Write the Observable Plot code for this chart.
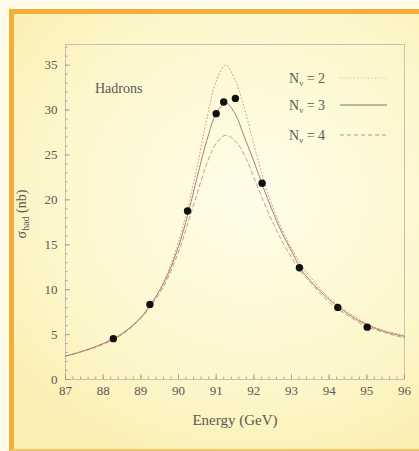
<!DOCTYPE html>
<html><head><meta charset="utf-8">
<script src="https://cdn.jsdelivr.net/npm/d3@7"></script>
<script src="https://cdn.jsdelivr.net/npm/@observablehq/plot@0.6"></script>
<style>
html,body{margin:0;padding:0;}
body{width:419px;height:451px;overflow:hidden;position:relative;background:#fffbe8;}
#panel{position:absolute;left:9px;top:9px;width:415px;height:442px;border-left:5px solid #efb03a;border-top:5px solid #efb03a;border-bottom:2px solid #f3c466;box-sizing:border-box;
background:radial-gradient(ellipse 75% 65% at 58% 42%, #fffdea 0%, #fdf7cc 65%, #faefb4 100%);}
#chart{position:absolute;left:0;top:0;}
</style></head><body><div id="panel"></div><div id="chart"></div>
<script>
// Measured data points
const energy = [88.27, 89.24, 90.24, 91.00, 91.20, 91.51, 92.22, 93.21, 94.23, 95.01];
const sigma  = [4.55, 8.36, 18.76, 29.6, 30.9, 31.3, 21.85, 12.45, 8.03, 5.83];

// Curve grid (energy) and the three predictions
const curveE = [87, 87.5, 88, 88.5, 89, 89.25, 89.5, 89.75, 90, 90.25, 90.5, 90.75, 91, 91.25, 91.5, 91.75, 92, 92.25, 92.5, 92.75, 93, 93.25, 93.5, 94, 94.5, 95, 95.5, 96];
const nv2 = [2.6, 3.2, 4.0, 5.1, 6.9, 8.3, 10.0, 12.3, 15.3, 19.2, 23.8, 29.0, 33.2, 35.0, 33.4, 30.2, 26.2, 22.4, 19.2, 16.7, 14.6, 12.8, 11.4, 9.1, 7.5, 6.2, 5.4, 4.9];
const nv3 = [2.6, 3.2, 4.0, 5.1, 6.9, 8.3, 9.9, 12.0, 14.8, 18.4, 22.6, 26.6, 29.6, 30.8, 29.6, 27.0, 24.3, 21.4, 18.7, 16.3, 14.3, 12.3, 11.0, 8.9, 7.3, 6.1, 5.3, 4.8];
const nv4 = [2.6, 3.2, 3.9, 5.0, 6.8, 8.1, 9.6, 11.6, 14.2, 17.4, 20.8, 24.0, 26.3, 27.2, 26.6, 25.0, 22.5, 19.9, 17.5, 15.4, 13.6, 12.0, 10.8, 8.6, 7.1, 5.9, 5.2, 4.6];

// Ticks and labels
const xTicks = [87, 88, 89, 90, 91, 92, 93, 94, 95, 96];
const yTicks = [0, 5, 10, 15, 20, 25, 30, 35];
const xMinor = d3.range(87, 96.001, 0.2);
const yMinor = d3.range(0, 37.01, 1);
const nvLabels = ["2", "3", "4"];
const panelLabel = "Hadrons";
const xLabel = "Energy (GeV)";

const points = energy.map((e, i) => ({E: e, s: sigma[i]}));
const c2 = curveE.map((e, i) => ({E: e, s: nv2[i]}));
const c3 = curveE.map((e, i) => ({E: e, s: nv3[i]}));
const c4 = curveE.map((e, i) => ({E: e, s: nv4[i]}));

const W = 419, H = 451, mL = 65, mR = 15, mT = 44, mB = 72;
const pw = W - mL - mR, ph = H - mT - mB;
const serif = "'Liberation Serif', 'Times New Roman', 'DejaVu Serif', serif";
const txt = "#5c5854";

const chart = Plot.plot({
  width: W, height: H,
  marginLeft: mL, marginRight: mR, marginTop: mT, marginBottom: mB,
  style: {background: "transparent", fontFamily: serif, fontSize: "13px", color: txt},
  x: {domain: [87, 96]},
  y: {domain: [0, 37.3]},
  marks: [
    Plot.frame({stroke: "#c9c1b2", strokeWidth: 1}),
    Plot.tickX(xMinor, {x: d => d, insetTop: ph - 2.5, stroke: "#9a9590", strokeWidth: 0.8}),
    Plot.tickX(xTicks, {x: d => d, insetTop: ph - 5, stroke: "#9a9590", strokeWidth: 0.8}),
    Plot.tickY(yMinor, {y: d => d, insetRight: pw - 2.5, stroke: "#9a9590", strokeWidth: 0.8}),
    Plot.tickY(yTicks, {y: d => d, insetRight: pw - 5, stroke: "#9a9590", strokeWidth: 0.8}),
    Plot.axisX(xTicks, {tickSize: 0, tickPadding: 6, label: null, fontSize: 13}),
    Plot.axisY(yTicks, {tickSize: 0, tickPadding: 8, label: null, fontSize: 13}),
    Plot.line(c2, {x: "E", y: "s", stroke: "#dc8f84", strokeWidth: 1, strokeDasharray: "1,2.5", curve: "catmull-rom"}),
    Plot.line(c4, {x: "E", y: "s", stroke: "#c99a86", strokeWidth: 1, strokeDasharray: "4,3", curve: "catmull-rom"}),
    Plot.line(c3, {x: "E", y: "s", stroke: "#a08274", strokeWidth: 1, curve: "catmull-rom"}),
    Plot.dot(points, {x: "E", y: "s", r: 3.7, fill: "#111", stroke: "none"})
  ]
});
document.getElementById("chart").append(chart);

const svg = d3.select(chart);
// y label
const yl = svg.append("text")
  .attr("transform", "translate(26,214) rotate(-90)")
  .attr("text-anchor", "middle")
  .attr("font-family", serif).attr("font-size", 14).attr("fill", txt);
yl.append("tspan").text("σ");
yl.append("tspan").attr("dy", 3).attr("font-size", 10).text("had");
yl.append("tspan").attr("dy", -3).text(" (nb)");

// x label
svg.append("text").attr("x", 235).attr("y", 425).attr("text-anchor", "middle")
  .attr("font-family", serif).attr("font-size", 15).attr("fill", txt).text(xLabel);

// panel label
svg.append("text").attr("x", 95).attr("y", 93).attr("text-anchor", "start")
  .attr("font-family", serif).attr("font-size", 14).attr("fill", txt).text(panelLabel);

// legend
const legendStyles = [
  {stroke: "#e3a495", dash: "1,2.5"},
  {stroke: "#7a7470", dash: null},
  {stroke: "#b59a8a", dash: "4,3"}
];
const legendY = [78, 105, 135];
nvLabels.forEach((lab, i) => {
  const t = svg.append("text").attr("x", 289).attr("y", legendY[i] + 5).attr("text-anchor", "start")
    .attr("font-family", serif).attr("font-size", 14).attr("fill", txt);
  t.append("tspan").text("N");
  t.append("tspan").attr("dy", 3).attr("font-size", 9).text("ν");
  t.append("tspan").attr("dy", -3).text(" = " + lab);
  const l = svg.append("line").attr("x1", 340).attr("x2", 387)
    .attr("y1", legendY[i]).attr("y2", legendY[i])
    .attr("stroke", legendStyles[i].stroke).attr("stroke-width", 1);
  if (legendStyles[i].dash) l.attr("stroke-dasharray", legendStyles[i].dash);
});
</script></body></html>
